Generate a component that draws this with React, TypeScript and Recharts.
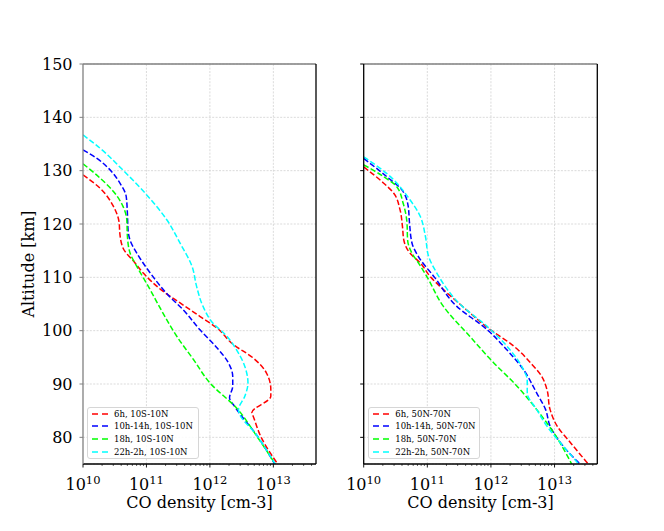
import {
  CartesianGrid,
  Label,
  Legend,
  Line,
  LineChart,
  ReferenceLine,
  XAxis,
  YAxis,
} from "recharts";

const FONT = "'DejaVu Serif', serif";

const X_MIN = 1e10;
const X_MAX = 4.7e13;
const X_MAJOR = [1e10, 1e11, 1e12, 1e13];
const X_MINOR = [
  2e10, 3e10, 4e10, 5e10, 6e10, 7e10, 8e10, 9e10,
  2e11, 3e11, 4e11, 5e11, 6e11, 7e11, 8e11, 9e11,
  2e12, 3e12, 4e12, 5e12, 6e12, 7e12, 8e12, 9e12,
  2e13, 3e13, 4e13,
];
const Y_TICKS = [80, 90, 100, 110, 120, 130, 140, 150];

// [altitude km, CO density cm-3]
const EQ_6H = [
  [129.2, 1.0e10], [126.7, 1.86e10], [123.3, 3.02e10], [120.2, 3.72e10],
  [118.3, 3.8e10], [115.5, 4.27e10], [112.7, 6.61e10], [110.8, 8.91e10],
  [107.4, 1.82e11], [105.2, 3.39e11], [102.7, 6.92e11], [100.5, 1.29e12],
  [97.4, 2.34e12], [94.9, 4.79e12], [92.1, 7.76e12], [89.0, 9.12e12],
  [87.7, 9.12e12], [84.6, 4.57e12], [84.0, 4.79e12], [80.2, 6.31e12],
  [75.0, 1.17e13],
];
const EQ_10H = [
  [133.9, 1.0e10], [132.3, 1.66e10], [130.1, 2.69e10], [127.7, 3.8e10],
  [125.2, 4.79e10], [122.0, 5.01e10], [118.9, 5.13e10], [117.0, 5.5e10],
  [114.5, 7.08e10], [110.8, 1.15e11], [106.7, 2.19e11], [103.9, 3.8e11],
  [100.2, 6.92e11], [96.8, 1.29e12], [94.0, 1.95e12], [91.4, 2.29e12],
  [89.6, 2.29e12], [87.4, 2.04e12], [85.8, 2.45e12], [80.2, 5.62e12],
  [75.0, 1.05e13],
];
const EQ_18H = [
  [131.3, 1.0e10], [128.6, 1.86e10], [126.1, 3.02e10], [123.3, 4.27e10],
  [120.8, 4.9e10], [117.7, 5.01e10], [114.6, 5.5e10], [112.0, 7.08e10],
  [108.3, 1.07e11], [103.3, 1.82e11], [98.9, 3.02e11], [94.6, 5.5e11],
  [90.2, 1.0e12], [85.5, 2.63e12], [80.2, 5.5e12], [75.0, 1.07e13],
];
const EQ_22H = [
  [136.7, 1.0e10], [134.2, 1.86e10], [130.1, 4.27e10], [125.5, 1.0e11],
  [120.8, 2.09e11], [116.4, 3.39e11], [112.0, 5.25e11], [108.3, 6.17e11],
  [104.6, 7.76e11], [101.4, 1.12e12], [99.3, 1.74e12], [96.4, 2.63e12],
  [93.3, 3.55e12], [90.2, 3.98e12], [87.7, 3.55e12], [85.2, 2.82e12],
  [80.2, 5.62e12], [75.0, 1.07e13],
];

const HL_6H = [
  [130.7, 1.0e10], [127.7, 2.04e10], [125.8, 2.95e10], [122.7, 3.72e10],
  [119.5, 4.07e10], [117.0, 4.27e10], [114.5, 5.37e10], [112.7, 7.76e10],
  [110.2, 1.1e11], [108.3, 1.58e11], [104.9, 3.31e11], [100.2, 9.77e11],
  [97.1, 2.29e12], [94.0, 4.17e12], [91.4, 6.31e12], [89.0, 7.59e12],
  [85.2, 8.51e12], [82.1, 1.1e13], [79.0, 1.78e13], [75.0, 3.39e13],
];
const HL_10H = [
  [132.3, 1.0e10], [128.9, 2.29e10], [126.4, 3.98e10], [123.3, 5.01e10],
  [120.2, 5.25e10], [116.4, 5.75e10], [113.9, 7.24e10], [109.9, 1.32e11],
  [104.6, 2.88e11], [100.2, 8.71e11], [96.4, 1.78e12], [92.7, 3.24e12],
  [88.3, 5.25e12], [85.2, 7.24e12], [82.1, 8.51e12], [78.3, 1.38e13],
  [75.0, 2.51e13],
];
const HL_18H = [
  [131.1, 1.0e10], [128.9, 2.04e10], [127.0, 3.31e10], [123.9, 4.17e10],
  [120.2, 4.79e10], [117.0, 4.9e10], [114.5, 5.75e10], [112.7, 7.24e10],
  [110.2, 9.77e10], [104.6, 1.78e11], [98.9, 4.68e11], [94.0, 1.1e12],
  [89.6, 2.57e12], [85.2, 5.25e12], [80.8, 9.77e12], [75.0, 1.86e13],
];
const HL_22H = [
  [132.6, 1.0e10], [129.5, 2.29e10], [124.5, 5.37e10], [121.4, 7.76e10],
  [117.7, 9.33e10], [113.9, 1.05e11], [110.8, 1.41e11], [104.9, 3.31e11],
  [100.8, 8.71e11], [96.4, 2.0e12], [92.7, 3.24e12], [90.8, 3.72e12],
  [88.3, 3.72e12], [85.2, 5.25e12], [82.1, 7.59e12], [78.3, 1.38e13],
  [75.0, 2.4e13],
];

const COLORS = ["#ff0000", "#0000ff", "#00ff00", "#00ffff"];
const LOCAL_TIMES = ["6h", "10h-14h", "18h", "22h-2h"];

const GRID = { stroke: "#cccccc", strokeDasharray: "2 1.4", strokeWidth: 0.7 };

const toPoints = (pairs: number[][]) => pairs.map(([alt, co]) => ({ alt, co }));

function XTick({ x, y, payload }: any) {
  const v = payload.value as number;
  const exp = Math.round(Math.log10(v));
  const major = Math.abs(v - 10 ** exp) / v < 1e-6;
  return (
    <g>
      <line
        x1={x}
        x2={x}
        y1={y}
        y2={y + (major ? 3.5 : 2)}
        stroke="#000"
        strokeWidth={major ? 0.9 : 0.6}
      />
      {major && (
        <text x={x} y={y + 26} textAnchor="middle" style={{ fontFamily: FONT }} fontSize={16} fill="#000">
          10
          <tspan dy={-6} fontSize={11.5}>
            {exp}
          </tspan>
        </text>
      )}
    </g>
  );
}

// keep the plotting order (6h, 10h-14h, 18h, 22h-2h) instead of alphabetical
const legendRank = (name: string) => LOCAL_TIMES.indexOf(name.split(",")[0]);

function LegendBox({ payload }: any) {
  const items = [...(payload || [])].sort((a: any, b: any) => legendRank(a.value) - legendRank(b.value));
  return (
    <div
      style={{
        width: 112,
        height: 52,
        boxSizing: "border-box",
        border: "1px solid #d6d6d6",
        borderRadius: 3,
        background: "rgba(255,255,255,0.85)",
        paddingLeft: 4,
        fontFamily: FONT,
        fontSize: 8.5,
        color: "#000",
      }}
    >
      {items.map((p: any) => (
        <div key={p.value} style={{ display: "flex", alignItems: "center", height: 12.6 }}>
          <svg width={16} height={4}>
            <line x1={0} y1={2} x2={16} y2={2} stroke={p.color} strokeWidth={1.5} strokeDasharray="6 4" />
          </svg>
          <span style={{ marginLeft: 6, whiteSpace: "nowrap" }}>{p.value}</span>
        </div>
      ))}
    </div>
  );
}

function Panel({
  series,
  region,
  left,
  marginLeft,
  marginRight,
  yWidth,
  showYLabels,
  leftSpine,
  legendLeft,
}: {
  series: number[][][];
  region: string;
  left: number;
  marginLeft: number;
  marginRight: number;
  yWidth: number;
  showYLabels: boolean;
  leftSpine: string;
  legendLeft: number;
}) {
  return (
    <div style={{ position: "absolute", left, top: 0 }}>
      <LineChart
        width={330}
        height={531}
        margin={{ top: 64, right: marginRight, bottom: 17, left: marginLeft }}
      >
        <CartesianGrid vertical={false} {...GRID} />
        {[1e11, 1e12, 1e13].map((v) => (
          <ReferenceLine key={v} x={v} {...GRID} />
        ))}
        <XAxis
          type="number"
          dataKey="co"
          scale="log"
          domain={[X_MIN, X_MAX]}
          allowDataOverflow
          ticks={[...X_MAJOR, ...X_MINOR]}
          interval={0}
          tickSize={0}
          tickMargin={0}
          tickLine={false}
          tick={<XTick />}
          height={50}
          axisLine={{ stroke: "#000", strokeWidth: 1.3 }}
        >
          <Label
            content={({ viewBox }: any) => (
              <text
                x={viewBox.x + viewBox.width / 2}
                y={viewBox.y + 44}
                textAnchor="middle"
                style={{ fontFamily: FONT }}
                fontSize={16}
                fill="#000"
              >
                CO density [cm-3]
              </text>
            )}
          />
        </XAxis>
        <YAxis
          type="number"
          domain={[75, 150]}
          allowDataOverflow
          ticks={Y_TICKS}
          interval={0}
          width={yWidth}
          tickSize={3.5}
          tickMargin={7}
          tickFormatter={(v) => (showYLabels ? String(v) : "")}
          tick={{ style: { fontFamily: FONT }, fontSize: 16, fill: "#000" }}
          axisLine={{ stroke: leftSpine, strokeWidth: 1.3 }}
          tickLine={{ stroke: leftSpine, strokeWidth: 1 }}
        >
          {showYLabels && (
            <Label
              content={({ viewBox }: any) => (
                <text
                  x={viewBox.x + 11}
                  y={viewBox.y + viewBox.height / 2}
                  transform={`rotate(-90 ${viewBox.x + 11} ${viewBox.y + viewBox.height / 2})`}
                  textAnchor="middle"
                  style={{ fontFamily: FONT }}
                  fontSize={16}
                  fill="#000"
                >
                  Altitude [km]
                </text>
              )}
            />
          )}
        </YAxis>
        <ReferenceLine y={150} stroke="#808080" strokeWidth={1.3} />
        <ReferenceLine x={X_MAX} stroke="#000" strokeWidth={1.3} />
        {series.map((s, i) => (
          <Line
            key={LOCAL_TIMES[i]}
            data={toPoints(s)}
            dataKey="alt"
            name={`${LOCAL_TIMES[i]}, ${region}`}
            type="monotoneY"
            stroke={COLORS[i]}
            strokeWidth={1.5}
            strokeDasharray="5.5 2.4"
            dot={false}
            activeDot={false}
            isAnimationActive={false}
          />
        ))}
        <Legend
          layout="vertical"
          align="center"
          verticalAlign="middle"
          content={<LegendBox />}
          wrapperStyle={{ left: legendLeft, top: 406.5, width: 112, height: 52 }}
        />
      </LineChart>
    </div>
  );
}

export default function App() {
  return (
    <div
      style={{
        position: "absolute",
        left: 0,
        top: 0,
        width: 664,
        height: 531,
        background: "#fff",
        overflow: "hidden",
      }}
    >
      <Panel
        series={[EQ_6H, EQ_10H, EQ_18H, EQ_22H]}
        region="10S-10N"
        left={0}
        marginLeft={23}
        marginRight={14}
        yWidth={60}
        showYLabels
        leftSpine="#808080"
        legendLeft={87}
      />
      <Panel
        series={[HL_6H, HL_10H, HL_18H, HL_22H]}
        region="50N-70N"
        left={330}
        marginLeft={13.7}
        marginRight={62.7}
        yWidth={20}
        showYLabels={false}
        leftSpine="#000"
        legendLeft={38.3}
      />
    </div>
  );
}
